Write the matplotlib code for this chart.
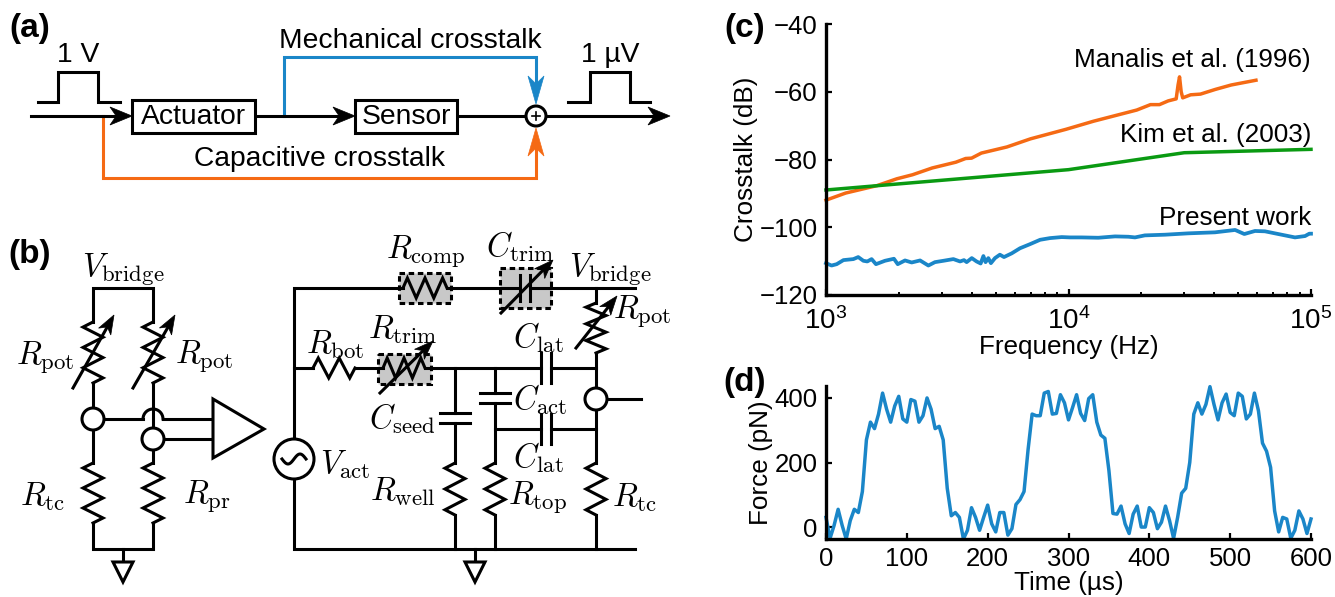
import numpy as np
import matplotlib
matplotlib.use('Agg')
import matplotlib.pyplot as plt
from matplotlib.patches import Circle, Polygon, Rectangle

plt.rcParams['font.family'] = ['Liberation Sans', 'DejaVu Sans']
plt.rcParams['mathtext.fontset'] = 'cm'

W, H = 1335, 597
BLUE = '#1a86c8'
ORANGE = '#f56a14'
GREEN = '#0a9a12'

# Panel (c): crosstalk data
manalis_f = [1000, 1206, 1625, 1958, 2275, 2741, 3430, 3767, 3984, 4372, 5571, 6971, 9750,
             12680, 19120, 21780, 23720, 25770, 27800, 28300, 28700, 29150, 29580, 31900,
             35000, 40360, 46900, 59300]
manalis_db = [-92, -89.9, -87.7, -85.7, -84.5, -82.5, -80.8, -79.7, -79.6, -78.1, -76.3, -73.9, -71.1,
              -68.7, -65.4, -63.8, -63.8, -62.7, -62.1, -58, -55.6, -60, -61.8, -60.9,
              -60.7, -59.3, -58, -56.6]
kim_f = [1000, 10000, 30000, 100000]
kim_db = [-89, -83, -78, -77]
present_f = [1000, 1054, 1107, 1180, 1297, 1358, 1426, 1480, 1542, 1607, 1750, 1906, 1976, 2118, 2256,
             2443, 2643, 2814, 3048, 3351, 3571, 3707, 3802, 3991, 4178, 4343, 4457, 4550, 4671, 4786,
             4977, 5212, 5420, 5834, 6310, 6934, 7638, 8395, 9376, 10140, 11320, 13270, 15560, 17660,
             18800, 20650, 25000, 31190, 40180, 48640, 53090, 58750, 64570, 73280, 85900, 94500, 98400,
             100000]
present_db = [-110.6, -111.3, -110.9, -109.7, -109.4, -108.8, -109.9, -110.1, -109.4, -110.9, -109.9,
              -109.3, -110.9, -109.8, -110.4, -109.8, -111.3, -110.3, -109.9, -109.4, -110.1, -109.7,
              -110.3, -109.1, -110.1, -110.7, -108.5, -110.3, -109.1, -110.6, -109.1, -108.1, -108.8,
              -107.7, -106.2, -105.0, -103.7, -103.2, -102.9, -103.0, -103.0, -103.1, -102.7, -102.8,
              -103.0, -102.4, -102.2, -101.8, -101.5, -100.8, -102.0, -101.1, -101.2, -102.0, -103.0,
              -102.6, -101.9, -101.9]

# Panel (d): force trace, one sample every 5 us
time_us = [0, 5, 10, 15, 20, 25, 30, 35, 40, 45, 50, 55, 60, 65, 70, 75, 80, 85, 90, 95,
           100, 105, 110, 115, 120, 125, 130, 135, 140, 145, 150, 155, 160, 165, 170, 175, 180, 185, 190, 195,
           200, 205, 210, 215, 220, 225, 230, 235, 240, 245, 250, 255, 260, 265, 270, 275, 280, 285, 290, 295,
           300, 305, 310, 315, 320, 325, 330, 335, 340, 345, 350, 355, 360, 365, 370, 375, 380, 385, 390, 395,
           400, 405, 410, 415, 420, 425, 430, 435, 440, 445, 450, 455, 460, 465, 470, 475, 480, 485, 490, 495,
           500, 505, 510, 515, 520, 525, 530, 535, 540, 545, 550, 555, 560, 565, 570, 575, 580, 585, 590, 595, 600]
force_pn = [30, -35, 5, 55, 5, -37, 20, 55, 45, 110, 270, 325, 305, 350, 415, 365, 325, 375, 405, 335,
            325, 395, 390, 325, 345, 400, 365, 305, 312, 270, 120, 35, 45, 30, -37, -10, 60, 30, -10, 30,
            68, 10, -15, 45, 45, -25, -5, 70, 85, 110, 240, 350, 345, 345, 415, 420, 350, 352, 410, 385,
            332, 370, 410, 352, 330, 398, 410, 325, 285, 275, 175, 42, 40, 65, 10, -20, 40, 65, 0, 0,
            60, 45, -5, 15, 65, 20, -35, 30, 105, 120, 200, 350, 385, 350, 380, 435, 380, 332, 385, 412,
            355, 345, 415, 405, 335, 350, 415, 360, 260, 235, 185, 50, -15, 30, 25, -35, -10, 50, 25, -20, 25]

LW = 2.2
FS = 20.3
MATH = 23.5
TXT = 18.8


def axes_px(fig, left, top, right, bottom):
    return fig.add_axes([left / W, 1 - bottom / H, (right - left) / W, (bottom - top) / H])


# Drawing helpers for the schematics, all in picture pixels
def wire(ax, pts, color='black', lw=LW, zorder=3):
    xs, ys = zip(*pts)
    ax.plot(xs, ys, color=color, lw=lw, solid_capstyle='projecting', solid_joinstyle='miter', zorder=zorder)


def arrow_head(ax, x, y, dx, dy, color='black', size=22, width=9):
    # stealth style head with its tip in (x, y)
    n = np.hypot(dx, dy)
    ux, uy = dx / n, dy / n
    px, py = -uy, ux
    pts = [(x, y), (x - size * ux + width * px, y - size * uy + width * py),
           (x - size * 0.72 * ux, y - size * 0.72 * uy),
           (x - size * ux - width * px, y - size * uy - width * py)]
    ax.add_patch(Polygon(pts, closed=True, fc=color, ec=color, lw=0.5, zorder=4))


def zigzag_v(ax, x, y0, y1, n=6, amp=10):
    pts = [(x, y0)]
    step = (y1 - y0) / n
    for i in range(n):
        side = -1 if i % 2 == 0 else 1
        pts.append((x + side * amp, y0 + step * (i + 0.5)))
    pts.append((x, y1))
    ax.plot(*zip(*pts), color='black', lw=LW, solid_joinstyle='miter', zorder=3)


def zigzag_h(ax, x0, x1, y, n=4, amp=10):
    pts = [(x0, y)]
    step = (x1 - x0) / n
    for i in range(n):
        side = -1 if i % 2 == 0 else 1
        pts.append((x0 + step * (i + 0.5), y + side * amp))
    pts.append((x1, y))
    ax.plot(*zip(*pts), color='black', lw=LW, solid_joinstyle='miter', zorder=3)


def trim_arrow(ax, x0, y0, x1, y1):
    ax.plot([x0, x1 - (x1 - x0) * 0.1], [y0, y1 - (y1 - y0) * 0.1], color='black', lw=LW, zorder=5)
    arrow_head(ax, x1, y1, x1 - x0, y1 - y0, size=19, width=7)


def node(ax, x, y, r=11):
    ax.add_patch(Circle((x, y), r, fc='white', ec='black', lw=LW, zorder=4))


def ground(ax, x, y):
    wire(ax, [(x, y), (x, y + 13)])
    ax.add_patch(Polygon([(x - 10, y + 13), (x + 10, y + 13), (x, y + 33)], closed=True,
                         fc='white', ec='black', lw=LW, zorder=4))


def grey_box(ax, x0, y0, x1, y1):
    ax.add_patch(Rectangle((x0, y0), x1 - x0, y1 - y0, fc='#c8c8c8', ec='black', lw=LW,
                           ls=(0, (1.8, 1.2)), zorder=2))


def cap_v(ax, x, y0, y1, half=15):
    # wire runs vertically, plates are horizontal
    for y in (y0, y1):
        wire(ax, [(x - half, y), (x + half, y)])


def cap_h(ax, x0, x1, y, half=15):
    for x in (x0, x1):
        wire(ax, [(x, y - half), (x, y + half)])


def label(ax, x, y, s, **kw):
    ax.text(x, y, s, ha='center', va='center', fontsize=kw.pop('fontsize', FS), color='black', zorder=6, **kw)


def mlabel(ax, x, y, s):
    ax.text(x, y, s, ha='center', va='center', fontsize=MATH, color='black', zorder=6)


def draw_panel_a(ax):
    label(ax, 30, 28, '(a)', fontweight='bold', fontsize=24)
    # pulses
    wire(ax, [(38, 102), (58, 102), (58, 72), (98, 72), (98, 102), (120, 102)])
    wire(ax, [(568, 102), (590, 102), (590, 72), (630, 72), (630, 102), (650, 102)])
    label(ax, 78, 55, '1 V')
    label(ax, 610, 55, '1 µV')
    # crosstalk paths
    wire(ax, [(284, 116), (284, 57), (536, 57), (536, 90)], color=BLUE)
    arrow_head(ax, 536, 104, 0, 1, color=BLUE, size=28, width=8)
    wire(ax, [(103, 116), (103, 178), (536, 178), (536, 142)], color=ORANGE)
    arrow_head(ax, 536, 128, 0, -1, color=ORANGE, size=28, width=8)
    label(ax, 410, 41, 'Mechanical crosstalk')
    label(ax, 320, 159, 'Capacitive crosstalk')
    # main signal line
    wire(ax, [(31, 116), (125, 116)])
    arrow_head(ax, 132, 116, 1, 0)
    wire(ax, [(255, 116), (348, 116)])
    arrow_head(ax, 355, 116, 1, 0)
    wire(ax, [(457, 116), (526, 116)])
    wire(ax, [(546, 116), (660, 116)])
    arrow_head(ax, 670, 116, 1, 0)
    ax.add_patch(Rectangle((132, 100), 123, 33, fc='white', ec='black', lw=LW, zorder=4))
    ax.add_patch(Rectangle((355, 100), 102, 33, fc='white', ec='black', lw=LW, zorder=4))
    label(ax, 193.5, 117, 'Actuator')
    label(ax, 406, 117, 'Sensor')
    ax.add_patch(Circle((536, 116), 10, fc='white', ec='black', lw=LW, zorder=4))
    wire(ax, [(532, 116), (540, 116)], lw=1.2, zorder=5)
    wire(ax, [(536, 112), (536, 120)], lw=1.2, zorder=5)


def draw_panel_b_bridge(ax):
    label(ax, 30, 255, '(b)', fontweight='bold', fontsize=24)
    mlabel(ax, 123, 270, r'$V_{\mathrm{bridge}}$')
    wire(ax, [(93, 322), (93, 288), (153, 288), (153, 322)])
    zigzag_v(ax, 93, 322, 383)
    zigzag_v(ax, 153, 322, 383)
    trim_arrow(ax, 73, 388, 114, 315)
    trim_arrow(ax, 133, 388, 175, 315)
    wire(ax, [(93, 383), (93, 463)])
    wire(ax, [(153, 383), (153, 463)])
    zigzag_v(ax, 93, 463, 523)
    zigzag_v(ax, 153, 463, 523)
    wire(ax, [(93, 523), (93, 549), (153, 549), (153, 523)])
    ground(ax, 123, 549)
    # amplifier and the wire that hops over the right branch
    wire(ax, [(93, 419), (143, 419)])
    t = np.linspace(np.pi, 0, 20)
    ax.plot(153 + 10 * np.cos(t), 419 - 10 * np.sin(t), color='black', lw=LW, zorder=3)
    wire(ax, [(163, 419), (213, 419)])
    wire(ax, [(153, 439), (213, 439)])
    ax.add_patch(Polygon([(213, 399), (213, 458), (264, 429)], closed=True, fc='white', ec='black', lw=LW, zorder=4))
    node(ax, 93, 419)
    node(ax, 153, 439)
    mlabel(ax, 45, 358, r'$R_{\mathrm{pot}}$')
    mlabel(ax, 204, 357, r'$R_{\mathrm{pot}}$')
    mlabel(ax, 43, 497, r'$R_{\mathrm{tc}}$')
    mlabel(ax, 207, 497, r'$R_{\mathrm{pr}}$')


def draw_panel_b_circuit(ax):
    # outer wires and source
    wire(ax, [(294, 439), (294, 288), (403, 288)])
    wire(ax, [(447, 288), (520, 288)])
    wire(ax, [(530, 288), (635, 288)])
    wire(ax, [(294, 479), (294, 549), (635, 549)])
    ax.add_patch(Circle((294, 459), 20, fc='white', ec='black', lw=LW, zorder=4))
    t = np.linspace(-1, 1, 30)
    ax.plot(294 + 12 * t, 459 - 5 * np.sin(np.pi * t), color='black', lw=LW, zorder=5)
    mlabel(ax, 345, 465, r'$V_{\mathrm{act}}$')
    ground(ax, 475, 549)
    # top branch
    grey_box(ax, 399, 273, 451, 303)
    zigzag_h(ax, 403, 447, 288, n=5)
    grey_box(ax, 500, 268, 551, 308)
    cap_h(ax, 520, 530, 288, half=13)
    trim_arrow(ax, 501, 313, 553, 260)
    mlabel(ax, 426, 252, r'$R_{\mathrm{comp}}$')
    mlabel(ax, 520, 247, r'$C_{\mathrm{trim}}$')
    mlabel(ax, 610, 270, r'$V_{\mathrm{bridge}}$')
    # right column
    wire(ax, [(596, 288), (596, 303)])
    zigzag_v(ax, 596, 303, 353)
    trim_arrow(ax, 576, 348, 617, 296)
    mlabel(ax, 642, 312, r'$R_{\mathrm{pot}}$')
    wire(ax, [(596, 353), (596, 463)])
    zigzag_v(ax, 596, 463, 515, n=5)
    wire(ax, [(596, 515), (596, 549)])
    wire(ax, [(596, 399), (641, 399)])
    node(ax, 596, 399)
    mlabel(ax, 635, 498, r'$R_{\mathrm{tc}}$')
    # middle wire
    wire(ax, [(294, 368), (313, 368)])
    wire(ax, [(355, 368), (383, 368)])
    wire(ax, [(425, 368), (541, 368)])
    wire(ax, [(551, 368), (596, 368)])
    zigzag_h(ax, 313, 355, 368, n=4)
    grey_box(ax, 378, 354, 431, 384)
    zigzag_h(ax, 383, 425, 368, n=5)
    trim_arrow(ax, 380, 393, 433, 341)
    mlabel(ax, 335, 345, r'$R_{\mathrm{bot}}$')
    mlabel(ax, 403, 330, r'$R_{\mathrm{trim}}$')
    cap_h(ax, 541, 551, 368)
    mlabel(ax, 538, 338, r'$C_{\mathrm{lat}}$')
    # C seed and R well
    wire(ax, [(455, 368), (455, 413)])
    cap_v(ax, 455, 413, 423)
    wire(ax, [(455, 423), (455, 463)])
    zigzag_v(ax, 455, 463, 515, n=5)
    wire(ax, [(455, 515), (455, 549)])
    mlabel(ax, 402, 419, r'$C_{\mathrm{seed}}$')
    mlabel(ax, 403, 492, r'$R_{\mathrm{well}}$')
    # C act and R top
    wire(ax, [(495, 368), (495, 393)])
    cap_v(ax, 495, 393, 403)
    wire(ax, [(495, 403), (495, 463)])
    zigzag_v(ax, 495, 463, 515, n=5)
    wire(ax, [(495, 515), (495, 549)])
    mlabel(ax, 540, 400, r'$C_{\mathrm{act}}$')
    mlabel(ax, 537, 498, r'$R_{\mathrm{top}}$')
    # lower C lat
    wire(ax, [(495, 429), (541, 429)])
    wire(ax, [(551, 429), (596, 429)])
    cap_h(ax, 541, 551, 429)
    mlabel(ax, 538, 458, r'$C_{\mathrm{lat}}$')


def style_axis(ax):
    ax.spines['top'].set_visible(False)
    ax.spines['right'].set_visible(False)
    ax.spines['left'].set_linewidth(2.4)
    ax.spines['bottom'].set_linewidth(2.4)
    ax.tick_params(which='major', direction='in', length=4, width=1.6, labelsize=18.5, pad=6)
    ax.tick_params(which='minor', direction='in', length=2.5, width=1.4)
    ax.patch.set_alpha(0)


def main():
    fig = plt.figure(figsize=(W / 100, H / 100), dpi=100)

    # Full figure layer for the schematics, in pixels
    bg = fig.add_axes([0, 0, 1, 1])
    bg.set_xlim(0, W)
    bg.set_ylim(H, 0)
    bg.axis('off')
    draw_panel_a(bg)
    draw_panel_b_bridge(bg)
    draw_panel_b_circuit(bg)

    # Panel (c)
    axc = axes_px(fig, 826, 24, 1311, 295)
    axc.semilogx(manalis_f, manalis_db, color=ORANGE, lw=2.5, clip_on=False)
    axc.semilogx(kim_f, kim_db, color=GREEN, lw=2.5, clip_on=False)
    axc.semilogx(present_f, present_db, color=BLUE, lw=2.7, clip_on=False)
    axc.set_xlim(1e3, 1e5)
    axc.set_ylim(-120, -40)
    axc.set_yticks([-120, -100, -80, -60, -40])
    axc.set_yticklabels(['\u2212120', '\u2212100', '\u221280', '\u221260', '\u221240'])
    axc.set_xticks([1e3, 1e4, 1e5])
    axc.set_xticklabels([r'$\mathregular{10^{3}}$', r'$\mathregular{10^{4}}$', r'$\mathregular{10^{5}}$'])
    style_axis(axc)
    axc.tick_params(axis='x', which='major', labelsize=20, pad=9)
    axc.set_xlabel('Frequency (Hz)', fontsize=TXT, labelpad=0)
    axc.set_ylabel('Crosstalk (dB)', fontsize=TXT, labelpad=1)
    axc.text(9.99e4, -50.6, 'Manalis et al. (1996)', ha='right', va='center', fontsize=TXT)
    axc.text(9.99e4, -72.9, 'Kim et al. (2003)', ha='right', va='center', fontsize=TXT)
    axc.text(9.99e4, -97.3, 'Present work', ha='right', va='center', fontsize=TXT)

    # Panel (d)
    axd = axes_px(fig, 826, 386, 1311, 539)
    axd.plot(time_us, force_pn, color=BLUE, lw=2.5, clip_on=False)
    axd.set_xlim(0, 600)
    axd.set_ylim(-37, 437)
    axd.set_xticks([0, 100, 200, 300, 400, 500, 600])
    axd.set_yticks([0, 200, 400])
    style_axis(axd)
    axd.set_xlabel('Time (µs)', fontsize=TXT, labelpad=0)
    axd.set_ylabel('Force (pN)', fontsize=TXT, labelpad=1)

    bg.text(745, 28, '(c)', ha='center', va='center', fontweight='bold', fontsize=24)
    bg.text(745, 382, '(d)', ha='center', va='center', fontweight='bold', fontsize=24)

    fig.savefig('out.png', dpi=100)


if __name__ == '__main__':
    main()
